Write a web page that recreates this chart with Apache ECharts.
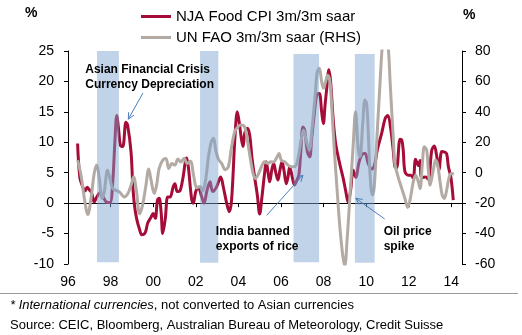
<!DOCTYPE html>
<html>
<head>
<meta charset="utf-8">
<script src="https://cdn.jsdelivr.net/npm/echarts@6/dist/echarts.min.js"></script>
<style>
  html, body { margin: 0; padding: 0; background: #fff; }
  #chart { width: 522px; height: 335px; }
</style>
</head>
<body>
<div id="chart"></div>
<script>
// NJA food CPI, 3m/3m seasonally adjusted annualised rate (%), left axis
const foodYears = [
  1996.45, 1996.56, 1996.69, 1996.8, 1996.9, 1997.0, 1997.1, 1997.23, 1997.35, 1997.5,
  1997.62, 1997.8, 1997.97, 1998.1, 1998.2, 1998.29, 1998.38, 1998.46, 1998.57, 1998.72,
  1998.8, 1998.96, 1999.04, 1999.12, 1999.22, 1999.35, 1999.47, 1999.63, 1999.74, 1999.9,
  2000.0, 2000.1, 2000.2, 2000.28, 2000.37, 2000.45, 2000.57, 2000.68, 2000.79, 2000.94,
  2001.02, 2001.13, 2001.25, 2001.38, 2001.57, 2001.65, 2001.8, 2001.88, 2002.0, 2002.12,
  2002.28, 2002.39, 2002.52, 2002.67, 2002.79, 2002.98, 2003.17, 2003.29, 2003.45, 2003.57,
  2003.68, 2003.84, 2003.95, 2004.05, 2004.14, 2004.22, 2004.3, 2004.42, 2004.53, 2004.64,
  2004.77, 2004.89, 2005.0, 2005.1, 2005.23, 2005.31, 2005.39, 2005.47, 2005.58, 2005.66,
  2005.75, 2005.86, 2005.95, 2006.05, 2006.14, 2006.25, 2006.33, 2006.41, 2006.48, 2006.56,
  2006.64, 2006.75, 2006.84, 2006.92, 2007.03, 2007.11, 2007.24, 2007.35, 2007.44, 2007.56,
  2007.68, 2007.8, 2007.91, 2007.99, 2008.07, 2008.15, 2008.25, 2008.33, 2008.46, 2008.58,
  2008.77, 2008.92, 2009.05, 2009.15, 2009.27, 2009.39, 2009.52, 2009.65, 2009.79, 2009.94,
  2010.1, 2010.26, 2010.41, 2010.52, 2010.73, 2010.9, 2011.02, 2011.15, 2011.27, 2011.35,
  2011.43, 2011.59, 2011.67, 2011.74, 2011.82, 2011.98, 2012.1, 2012.21, 2012.32, 2012.45,
  2012.53, 2012.6, 2012.79, 2012.92, 2013.08, 2013.2, 2013.31, 2013.42, 2013.55, 2013.67,
  2013.78, 2013.86, 2013.98, 2014.09
];
const foodValues = [
  9.8, 4.1, 2.7, 2.0, 2.6, 2.2, 1.8, 0.2, 1.0, 1.7,
  1.2, 0.2, 0.1, 3.5, 10.0, 14.4, 12.0, 9.5, 9.3, 13.3,
  12.8, 8.4, 3.0, -0.3, -2.5, -4.2, -5.2, -4.8, -3.3, -2.3,
  -1.7, -2.5, 0.5, 0.8, -1.4, -5.0, -2.5, 1.0, 1.0, 2.7,
  3.2, 1.9, 2.0, 3.8, 7.4, 6.0, 0.8, 0.0, 1.9, 2.6,
  1.0, 0.0, 2.0, 3.5, 1.9, 2.7, 4.3, 2.7, 0.0, -1.4,
  0.5, 10.9, 15.0, 13.0, 10.6, 9.3, 11.5, 12.3, 11.2, 7.4,
  4.1, 1.3, -1.8, 0.8, 4.9, 6.8, 5.1, 3.5, 5.7, 6.5,
  5.1, 3.8, 5.4, 6.8, 5.4, 3.2, 4.3, 6.0, 5.1, 3.8,
  3.0, 3.8, 4.6, 7.9, 12.5, 12.0, 8.4, 7.6, 10.6, 14.5,
  17.8, 18.0, 15.0, 13.1, 16.1, 18.9, 21.9, 20.0, 13.4, 9.5,
  6.3, 4.1, 1.8, 0.2, 2.1, 5.4, 4.2, 6.5, 7.9, 8.2,
  6.5, 5.6, 6.5, 8.7, 11.5, 14.0, 14.4, 12.3, 8.7, 6.0,
  5.8, 10.5, 10.4, 8.7, 5.2, 4.6, 4.6, 4.1, 7.2, 6.2,
  7.0, 4.2, 4.3, 3.9, 8.7, 9.4, 7.8, 5.5, 8.5, 8.4,
  8.1, 6.0, 4.2, 0.5
];

// UN FAO food price index, 3m/3m saar (%), right axis
const faoYears = [
  1996.45, 1996.61, 1996.77, 1996.93, 1997.08, 1997.23, 1997.35, 1997.47, 1997.6, 1997.7,
  1997.86, 1997.97, 1998.1, 1998.41, 1998.64, 1998.8, 1998.96, 1999.08, 1999.22, 1999.36,
  1999.5, 1999.66, 1999.79, 1999.9, 2000.05, 2000.16, 2000.28, 2000.45, 2000.6, 2000.73,
  2000.88, 2001.02, 2001.16, 2001.3, 2001.45, 2001.6, 2001.75, 2001.9, 2002.05, 2002.2,
  2002.32, 2002.45, 2002.59, 2002.72, 2002.83, 2002.95, 2003.06, 2003.22, 2003.38, 2003.53,
  2003.67, 2003.83, 2003.98, 2004.14, 2004.28, 2004.37, 2004.53, 2004.69, 2004.8, 2004.92,
  2005.08, 2005.23, 2005.39, 2005.52, 2005.65, 2005.78, 2005.91, 2006.01, 2006.17, 2006.33,
  2006.48, 2006.64, 2006.8, 2006.95, 2007.06, 2007.19, 2007.33, 2007.45, 2007.6, 2007.7,
  2007.8, 2007.91, 2007.99, 2008.1, 2008.19, 2008.3, 2008.38, 2008.49, 2008.62, 2008.77,
  2008.92, 2009.0, 2009.1, 2009.24, 2009.39, 2009.5, 2009.63, 2009.71, 2009.84, 2009.94,
  2010.02, 2010.1, 2010.18, 2010.29, 2010.38, 2010.49, 2010.65, 2010.74, 2010.88, 2011.05,
  2011.12, 2011.27, 2011.35, 2011.5, 2011.67, 2011.82, 2011.95, 2012.06, 2012.21, 2012.32,
  2012.45, 2012.53, 2012.64, 2012.73, 2012.84, 2012.92, 2013.0, 2013.15, 2013.26, 2013.36,
  2013.46, 2013.57, 2013.67, 2013.78, 2013.9, 2014.01, 2014.12
];
const faoValues = [
  8.3, -1.6, -16.9, -27.5, -17.0, -0.5, 5.0, -3.8, -16.9, -12.6,
  1.7, -3.8, -10.3, -12.6, -15.9, -14.0, -8.2, -2.7, -12.6, -27.0,
  -21.3, -8.2, 2.5, -4.9, -13.6, -8.2, 2.8, 8.3, 9.4, 2.8,
  6.0, 5.0, 9.0, 7.0, 9.5, 6.0, 7.5, -2.0, -10.0, -9.0,
  -12.0, -6.0, 10.0, 20.0, 22.6, 14.0, 9.0, 6.0, 2.0, 4.0,
  16.0, 26.9, 30.2, 31.3, 30.5, 26.0, 12.0, -0.5, -3.8, -1.6,
  3.9, 7.2, 6.1, 7.2, 7.0, 9.4, 12.7, 8.3, 7.2, 5.0,
  3.9, 3.9, 9.4, 22.0, 28.0, 21.0, 15.0, 28.0, 50.0, 66.0,
  68.6, 59.8, 55.5, 60.0, 64.0, 59.8, 44.5, 18.2, -8.2, -36.6,
  -56.4, -61.0, -45.0, -15.0, 18.0, 40.0, 15.0, 10.5, 32.4, 47.8,
  45.6, 25.9, -0.5, -14.7, -9.3, 19.3, 58.8, 80.0, 100.0, 80.0,
  60.9, 23.6, 6.0, -2.7, -10.3, -16.9, -22.8, -18.0, -6.0, -1.6,
  -6.0, -10.3, 6.1, 17.0, 14.9, 1.7, -8.2, 1.7, 8.3, 5.0,
  -4.9, -14.7, -16.9, -11.4, -2.7, -0.5, -0.9
];

// Shaded episodes: [start year, end year, top, bottom] in left-axis units
const episodes = [
  [1997.36, 1998.39, 25.0, -9.7],
  [2002.20, 2003.06, 25.0, -9.8],
  [2006.59, 2007.79, 24.5, -9.7],
  [2009.47, 2010.40, 24.5, -9.8]
];

// Year tick labels on the x axis
const yearTicks = [1996, 1998, 2000, 2002, 2004, 2006, 2008, 2010, 2012, 2014];
const yearTickLabels = ['96', '98', '00', '02', '04', '06', '08', '10', '12', '14'];

// Callouts: text anchor (top-left), arrow tail and arrow tip, in [year, left-axis value]
const callouts = [
  { text: 'Asian Financial Crisis\nCurrency Depreciation', at: [1996.81, 23.1], from: [1999.52, 18.1], to: [1998.83, 13.8] },
  { text: 'India banned\nexports of rice', at: [2002.94, -3.5], from: [2005.33, -2.0], to: [2007.03, 4.6] },
  { text: 'Oil price\nspike', at: [2010.82, -3.5], from: [2010.87, -2.6], to: [2009.51, 0.8] }
];

const FONT = 'Liberation Sans, Arial, sans-serif';
const RED = '#a50d38';
const GREY = '#b3aaa3';
const ARROW = '#4a7ebb';

const chart = echarts.init(document.getElementById('chart'), null, { renderer: 'canvas' });

const zip = (xs, ys) => xs.map((x, i) => [x, ys[i]]);
const axisBlack = { color: '#000', width: 1 };

chart.setOption({
  animation: false,
  backgroundColor: '#fff',
  textStyle: { fontFamily: FONT },
  grid: { left: 68, right: 60, top: 51, bottom: 71, containLabel: false, outerBoundsMode: 'none' },
  legend: {
    orient: 'vertical',
    left: 136,
    top: 4,
    itemWidth: 30,
    itemHeight: 3,
    itemGap: 6,
    icon: 'rect',
    textStyle: { fontSize: 15, color: '#000', fontFamily: FONT },
    data: ['NJA Food CPI 3m/3m saar', 'UN FAO 3m/3m saar (RHS)']
  },
  xAxis: [
    {
      // labelled axis along the bottom edge
      type: 'value', min: 1996, max: 2014.5, interval: 2,
      position: 'bottom',
      splitLine: { show: false },
      axisLine: { show: false, onZero: false },
      axisTick: { show: false },
      axisLabel: {
        margin: 11,
        fontSize: 14,
        color: '#000',
        showMaxLabel: false,
        formatter: v => {
          const i = yearTicks.indexOf(Math.round(v * 100) / 100);
          return i >= 0 ? yearTickLabels[i] : '';
        }
      }
    },
    {
      // zero line with year ticks
      type: 'value', min: 1996, max: 2014.5, interval: 2,
      position: 'bottom',
      splitLine: { show: false },
      axisLine: { show: true, onZero: true, onZeroAxisIndex: 0, lineStyle: axisBlack },
      axisTick: { show: true, inside: false, length: 4, lineStyle: axisBlack },
      axisLabel: { show: false }
    }
  ],
  yAxis: [
    {
      type: 'value', position: 'left', min: -10, max: 25, interval: 5,
      splitLine: { show: false },
      axisLine: { show: true, lineStyle: axisBlack },
      axisTick: { show: true, length: 4, lineStyle: axisBlack },
      axisLabel: { margin: 14, fontSize: 14, color: '#000' }
    },
    {
      type: 'value', position: 'right', min: -60, max: 80, interval: 20,
      splitLine: { show: false },
      axisLine: { show: true, lineStyle: axisBlack },
      axisTick: { show: true, length: 4, lineStyle: axisBlack },
      axisLabel: { margin: 13, fontSize: 14, color: '#000' }
    }
  ],
  series: [
    {
      name: 'NJA Food CPI 3m/3m saar',
      type: 'line',
      xAxisIndex: 0,
      yAxisIndex: 0,
      data: zip(foodYears, foodValues),
      showSymbol: false,
      smooth: 0.35,
      clip: true,
      color: RED,
      lineStyle: { color: RED, width: 3 },
      z: 2
    },
    {
      name: 'UN FAO 3m/3m saar (RHS)',
      type: 'line',
      xAxisIndex: 0,
      yAxisIndex: 1,
      data: zip(faoYears, faoValues),
      showSymbol: false,
      smooth: 0.35,
      clip: true,
      color: GREY,
      lineStyle: { color: GREY, width: 3 },
      z: 3
    },
    {
      name: 'episodes',
      type: 'custom',
      xAxisIndex: 0,
      yAxisIndex: 0,
      silent: true,
      z: 6,
      data: episodes,
      encode: { x: [0, 1], y: [2, 3] },
      renderItem: (params, api) => {
        const p0 = api.coord([api.value(0), api.value(2)]);
        const p1 = api.coord([api.value(1), api.value(3)]);
        return {
          type: 'rect',
          shape: { x: p0[0], y: p0[1], width: p1[0] - p0[0], height: p1[1] - p0[1] },
          style: { fill: 'rgba(124,162,206,0.48)' }
        };
      }
    }
  ]
});

// Callout text and arrows, placed from data coordinates
function calloutGraphics() {
  const out = [];
  const px = v => chart.convertToPixel({ xAxisIndex: 0, yAxisIndex: 0 }, v);
  callouts.forEach(c => {
    const at = px(c.at), a = px(c.from), b = px(c.to);
    out.push({
      type: 'text', z: 20, x: at[0], y: at[1],
      style: { text: c.text, font: 'bold 12px ' + FONT, fill: '#000', lineHeight: 14.5 }
    });
    const ang = Math.atan2(b[1] - a[1], b[0] - a[0]);
    const hl = 7, spread = 0.45;
    out.push({
      type: 'line', z: 20,
      shape: { x1: a[0], y1: a[1], x2: b[0], y2: b[1] },
      style: { stroke: ARROW, lineWidth: 1 }
    });
    out.push({
      type: 'polyline', z: 20,
      shape: { points: [
        [b[0] - hl * Math.cos(ang - spread), b[1] - hl * Math.sin(ang - spread)],
        [b[0], b[1]],
        [b[0] - hl * Math.cos(ang + spread), b[1] - hl * Math.sin(ang + spread)]
      ] },
      style: { stroke: ARROW, lineWidth: 1, fill: null }
    });
  });
  return out;
}

chart.setOption({
  graphic: [
    { type: 'text', left: 25, top: 6, style: { text: '%', font: 'bold 14px ' + FONT, fill: '#000' } },
    { type: 'text', left: 463, top: 8, style: { text: '%', font: 'bold 14px ' + FONT, fill: '#000' } },
    { type: 'line', shape: { x1: 0, y1: 293.5, x2: 518, y2: 293.5 }, style: { stroke: '#9a9a9a', lineWidth: 1 } },
    {
      type: 'text', left: 10, top: 299,
      style: {
        text: '{i|* International currencies}{n|, not converted to Asian currencies}',
        rich: {
          i: { font: 'italic 13px ' + FONT, fill: '#000' },
          n: { font: '13px ' + FONT, fill: '#000' }
        }
      }
    },
    {
      type: 'text', left: 10, top: 319,
      style: { text: 'Source: CEIC, Bloomberg, Australian Bureau of Meteorology, Credit Suisse', font: '13px ' + FONT, fill: '#000' }
    }
  ].concat(calloutGraphics())
});
</script>
</body>
</html>
